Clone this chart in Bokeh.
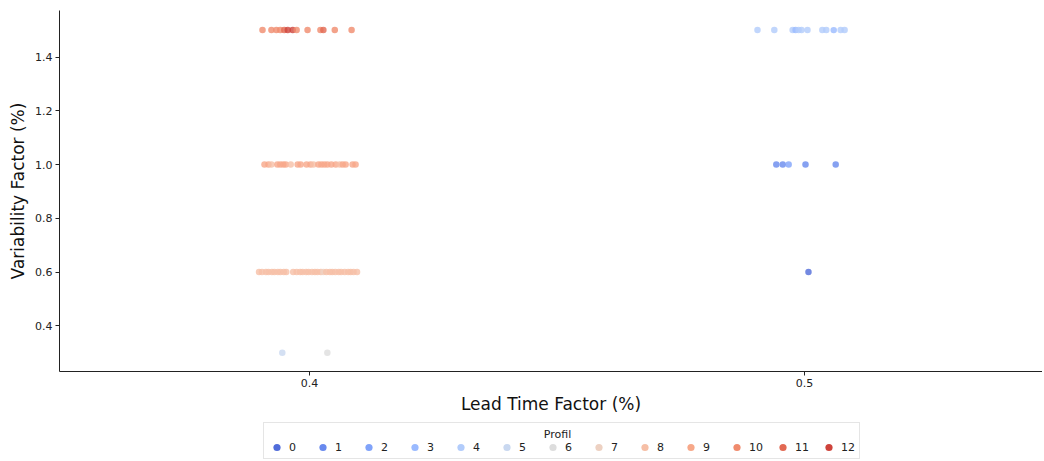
import numpy as np
from bokeh.plotting import figure
from bokeh.layouts import column
from bokeh.models import (ColumnDataSource, FixedTicker, Legend, LegendItem, CDSView,
                          IndexFilter, PrintfTickFormatter, Label, Range1d)
from bokeh.embed import file_html
from bokeh.resources import INLINE

# ---------------- data ----------------
profiles = list(range(13))
x_ticks = [0.4, 0.5]
y_ticks = [0.4, 0.6, 0.8, 1.0, 1.2, 1.4]

# cluster: lead 0.4, variability 1.5
c1_jit = [-9.5, -7.7, -6.7, -5.9, -5.1, -4.4, -3.4, -2.6, -0.4, 2.2, 2.8, 5.1, 8.5]
c1_prof = [10, 10, 10, 10, 11, 12, 12, 10, 10, 10, 11, 10, 10]
# cluster: lead 0.4, variability 1.0
c2_jit = [-9.1, -8.3, -7.7, -6.5, -5.9, -5.3, -4.8, -3.8, -2.4, -1.8, -0.6, 0.2,
          0.8, 1.8, 2.4, 3.0, 3.6, 4.4, 5.3, 6.1, 6.7, 7.3, 8.7, 9.3]
c2_prof = [9, 9, 8, 9, 9, 9, 9, 8, 9, 9, 9, 9, 8, 9, 9, 9, 9, 9, 9, 8, 9, 9, 9, 9]
# cluster: lead 0.4, variability 0.6
c3_jit = [-10.2, -9.6, -8.8, -8.3, -7.6, -7.1, -6.4, -5.9, -5.2, -4.7,
          -3.3, -2.6, -1.9, -1.4, -0.7, -0.2, 0.5, 1.1, 1.6, 2.3, 2.8, 3.4,
          4.1, 4.6, 5.2, 5.9, 6.4, 7.1, 7.8, 8.3, 8.9, 9.6]
c3_prof = [8, 8, 8, 8, 8, 8, 8, 8, 8, 8, 8, 8, 8, 8, 8, 8, 8, 8, 8, 8, 7, 8,
           8, 8, 8, 8, 8, 8, 8, 8, 8, 8]
# cluster: lead 0.4, variability 0.3
c4_jit = [-5.5, 3.6]
c4_prof = [5, 6]
# cluster: lead 0.5, variability 1.5
c5_jit = [-9.5, -6.1, -2.4, -1.8, -1.2, -0.6, 0.6, 3.6, 4.4, 5.9, 7.3, 8.1]
c5_prof = [4, 4, 4, 3, 4, 4, 4, 4, 4, 3, 4, 4]
# cluster: lead 0.5, variability 1.0
c6_jit = [-5.7, -4.4, -3.2, 0.2, 6.3]
c6_prof = [1, 1, 2, 1, 1]
# cluster: lead 0.5, variability 0.6
c7_jit = [0.8]
c7_prof = [0]

clusters = [
    (0.4, 1.5, c1_jit, c1_prof),
    (0.4, 1.0, c2_jit, c2_prof),
    (0.4, 0.6, c3_jit, c3_prof),
    (0.4, 0.3, c4_jit, c4_prof),
    (0.5, 1.5, c5_jit, c5_prof),
    (0.5, 1.0, c6_jit, c6_prof),
    (0.5, 0.6, c7_jit, c7_prof),
]

lead, vari, prof = [], [], []
for lt, vf, jit, pr in clusters:
    for j, k in zip(jit, pr):
        lead.append(lt + j / 1000.0)
        vari.append(vf)
        prof.append(k)

# ---------------- coolwarm palette (13 levels, endpoints excluded) ----------------
cw = np.array([
    (59, 76, 192), (68, 90, 204), (77, 104, 215), (87, 117, 225), (98, 130, 234),
    (108, 142, 241), (119, 154, 247), (130, 165, 251), (141, 176, 254), (152, 185, 255),
    (163, 194, 255), (174, 201, 253), (184, 208, 249), (194, 213, 244), (204, 217, 238),
    (213, 219, 230), (221, 221, 221), (229, 216, 209), (236, 211, 197), (241, 204, 185),
    (245, 196, 173), (247, 187, 160), (247, 177, 148), (247, 166, 135), (244, 154, 123),
    (241, 141, 111), (236, 127, 99), (229, 112, 88), (222, 96, 77), (213, 80, 66),
    (203, 62, 56), (192, 40, 47), (180, 4, 38)], dtype=float)
tt = np.linspace(0, 1, len(cw))


def cw_color(t):
    r = int(round(np.interp(t, tt, cw[:, 0])))
    g = int(round(np.interp(t, tt, cw[:, 1])))
    b = int(round(np.interp(t, tt, cw[:, 2])))
    return "#%02x%02x%02x" % (r, g, b)


palette = [cw_color((k + 1) / 14.0) for k in profiles]

FONT = "DejaVu Sans"
W = 1042

# ---------------- main plot ----------------
p = figure(width=W, height=416, output_backend="svg", toolbar_location=None,
           x_range=(0.34949, 0.54808), y_range=(0.23, 1.573),
           min_border_left=59, min_border_right=0, min_border_top=10, min_border_bottom=42)

src = ColumnDataSource(dict(x=lead, y=vari, c=[palette[k] for k in prof]))
p.scatter("x", "y", source=src, size=6.5, fill_color="c", line_color=None, fill_alpha=0.8)

p.xgrid.visible = False
p.ygrid.visible = False
p.outline_line_color = None

p.xaxis.ticker = FixedTicker(ticks=x_ticks)
p.yaxis.ticker = FixedTicker(ticks=y_ticks)
for ax in (p.xaxis[0], p.yaxis[0]):
    ax.formatter = PrintfTickFormatter(format="%.1f")
    ax.axis_line_color = "#222222"
    ax.major_tick_line_color = "#222222"
    ax.major_tick_out = 4
    ax.major_tick_in = 0
    ax.minor_tick_line_color = None
    ax.major_label_text_font = FONT
    ax.major_label_text_font_size = "11px"
    ax.major_label_text_color = "#222222"
    ax.axis_label_text_font = FONT
    ax.axis_label_text_font_size = "17px"
    ax.axis_label_text_font_style = "normal"
    ax.axis_label_text_color = "#111111"
    ax.major_label_standoff = 3
p.xaxis[0].axis_label_standoff = 4
p.yaxis[0].axis_label_standoff = 4

p.xaxis.axis_label = "Lead Time Factor (%)"
p.yaxis.axis_label = "Variability Factor (%)"

# ---------------- legend strip (its viewport shows none of the points) ----------------
pl = figure(width=W, height=44, output_backend="svg", toolbar_location=None,
            min_border=0, x_axis_location=None, y_axis_location=None,
            x_range=Range1d(5, 6), y_range=Range1d(5, 6))
pl.xgrid.visible = False
pl.ygrid.visible = False
pl.outline_line_color = None

items = []
for k in profiles:
    idx = [i for i, v in enumerate(prof) if v == k]
    r = pl.scatter("x", "y", source=src, view=CDSView(filter=IndexFilter(indices=idx)),
                   size=9, fill_color=palette[k], line_color=None)
    items.append(LegendItem(label=str(k), renderers=[r]))

legend = Legend(items=items, orientation="horizontal", location=(204, 1), title=" ",
                title_text_font=FONT, title_text_font_size="11px", title_standoff=0,
                label_text_font=FONT, label_text_font_size="11px", label_text_color="#222222",
                label_standoff=2, label_width=16, label_height=14, glyph_height=18,
                glyph_width=21, spacing=7, padding=2, margin=0,
                background_fill_alpha=0,
                border_line_color="#cccccc", border_line_width=1)
pl.add_layout(legend)
pl.add_layout(Label(x=498, y=33, x_units="screen", y_units="screen", text="Profil",
                    text_align="center", text_baseline="top", text_font=FONT,
                    text_font_size="11px", text_color="#222222", level="overlay"))

open("out.html", "w").write(file_html(column(p, pl, spacing=0), INLINE))
